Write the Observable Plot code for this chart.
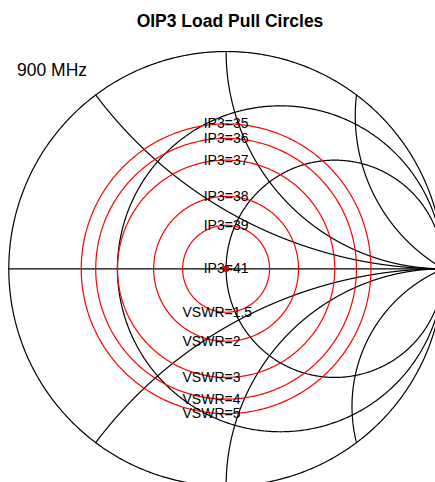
<!DOCTYPE html>
<html>
<head>
<meta charset="utf-8">
<script src="https://cdn.jsdelivr.net/npm/d3@7"></script>
<script src="https://cdn.jsdelivr.net/npm/@observablehq/plot@0.6"></script>
<style>
  html, body { margin: 0; padding: 0; background: #fff; overflow: hidden; }
  #wrap { position: relative; width: 435px; height: 482px; font-family: "Liberation Sans", Arial, sans-serif; }
  #title { position: absolute; top: 11px; left: 0; width: 460px; text-align: center; font-weight: bold; font-size: 17.5px; line-height: 20px; color: #000; z-index: 2; }
  #freq { position: absolute; top: 60px; left: 17px; font-size: 17.5px; line-height: 20px; color: #000; z-index: 2; }
  #chart { position: absolute; top: 0; left: 0; }
</style>
</head>
<body>
<div id="wrap">
  <div id="title">OIP3 Load Pull Circles</div>
  <div id="freq">900 MHz</div>
  <div id="chart"></div>
</div>
<script>
// ---- data ----
const resistanceValues = [0, 1/3, 1];          // constant-r grid circles
const reactanceValues = [0, 0.5, -0.5, 1, -1]; // constant-x grid arcs
const skewArcStart = [2, -2];                  // extra black arcs: start reactance at r=0
const skewArcSlope = [0.58, -0.42];            // reactance change per unit r
const vswrValues = [1.5, 2, 3, 4, 5];          // red contours
const ip3Values = [35, 36, 37, 38, 39, 41];    // IP3 labels
const ip3OnVswr = [5, 4, 3, 2, 1.5, 1];        // contour each IP3 label sits on

// ---- helpers ----
const gamma = (r, x) => { const d = (r + 1) * (r + 1) + x * x; return [(r * r + x * x - 1) / d, 2 * x / d]; };
const mag = s => (s - 1) / (s + 1);

const gridPts = [];
resistanceValues.forEach((r, i) => {
  const c = r / (1 + r), rad = 1 / (1 + r);
  for (let k = 0; k <= 720; k++) {
    const a = 2 * Math.PI * k / 720;
    gridPts.push({g: "r" + i, x: c + rad * Math.cos(a), y: rad * Math.sin(a)});
  }
});
reactanceValues.forEach((xv, i) => {
  for (let k = 0; k <= 3000; k++) {
    const u = k / 3000 * 0.99995;
    const r = u / (1 - u);
    const [gx, gy] = gamma(r, xv);
    gridPts.push({g: "x" + i, x: gx, y: gy});
  }
});
skewArcStart.forEach((x0, i) => {
  for (let k = 0; k <= 3000; k++) {
    const u = k / 3000 * 0.99995;
    const r = u / (1 - u);
    const [gx, gy] = gamma(r, x0 + skewArcSlope[i] * r);
    gridPts.push({g: "s" + i, x: gx, y: gy});
  }
});

const vswrPts = [];
vswrValues.forEach((s, i) => {
  const m = mag(s);
  for (let k = 0; k <= 720; k++) {
    const a = 2 * Math.PI * k / 720;
    vswrPts.push({g: i, x: m * Math.cos(a), y: m * Math.sin(a)});
  }
});

const ip3Labels = ip3Values.map((v, i) => ({text: "IP3=" + v, y: mag(ip3OnVswr[i])}));
const vswrLabels = vswrValues.map(s => ({text: "VSWR=" + s, y: -mag(s)}));

const W = 435, H = 482, cx = 225.6, cy = 268.3, R = 217.3;
const chart = Plot.plot({
  width: W, height: H, margin: 0,
  style: {background: "transparent", fontFamily: "Liberation Sans, Arial, sans-serif"},
  x: {domain: [-cx / R, (W - cx) / R], axis: null},
  y: {domain: [(cy - H) / R, cy / R], axis: null},
  marks: [
    Plot.line(gridPts, {x: "x", y: "y", z: "g", stroke: "#000", strokeWidth: 1.2}),
    Plot.line(vswrPts, {x: "x", y: "y", z: "g", stroke: "#ff0000", strokeWidth: 1.2}),
    Plot.dot([{x: 0, y: 0}], {x: "x", y: "y", r: 3, fill: "#ff0000", stroke: "#a00000", strokeWidth: 0.5}),
    Plot.text(ip3Labels, {x: () => 0, y: "y", text: "text", fontSize: 14, fill: "#000", textAnchor: "middle", lineAnchor: "middle"}),
    Plot.text(vswrLabels, {x: () => 0, y: "y", text: "text", fontSize: 14, fill: "#000", textAnchor: "start", lineAnchor: "middle", dx: -43.6})
  ]
});
document.getElementById("chart").appendChild(chart);
</script>
</body>
</html>
